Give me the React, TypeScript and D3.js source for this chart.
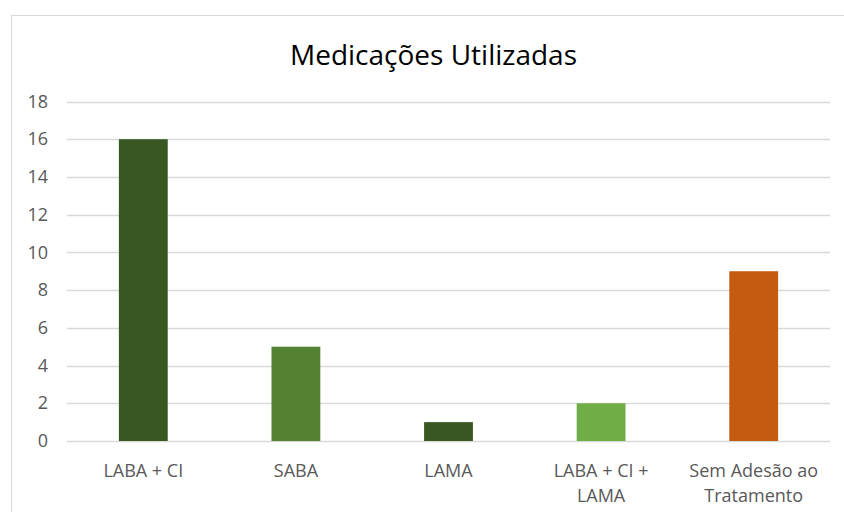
import { useEffect, useRef } from "react";
import * as d3 from "d3";

const categories = [["LABA + CI"], ["SABA"], ["LAMA"], ["LABA + CI +", "LAMA"], ["Sem Adesão ao", "Tratamento"]];
const values = [16, 5, 1, 2, 9];
const colors = ["#385723", "#548235", "#385723", "#70ad47", "#c55a11"];
const yTicks = [0, 2, 4, 6, 8, 10, 12, 14, 16, 18];
const title = "Medicações Utilizadas";

const W = 844;
const H = 512;
const FONT = "'Open Sans', sans-serif";

export default function App() {
  const svgRef = useRef<SVGSVGElement>(null);

  useEffect(() => {
    if (!svgRef.current) return;
    const svg = d3.select(svgRef.current);
    svg.selectAll("*").remove();

    // chart frame
    svg.append("rect")
      .attr("x", 11.5).attr("y", 15.5)
      .attr("width", W).attr("height", H)
      .attr("fill", "#fff")
      .attr("stroke", "#d9d9d9");

    const x = d3.scaleBand<number>()
      .domain(values.map((_, i) => i))
      .range([67, 830])
      .paddingInner(0.68)
      .paddingOuter(0.34);
    const y = d3.scaleLinear().domain([0, 18]).range([441, 101.5]);

    // grid
    svg.append("g")
      .selectAll("line")
      .data(yTicks)
      .join("line")
      .attr("x1", 67).attr("x2", 830)
      .attr("y1", (d) => Math.round(y(d)) + 0.5)
      .attr("y2", (d) => Math.round(y(d)) + 0.5)
      .attr("stroke", "#d9d9d9")
      .attr("stroke-width", 1.5);

    // y labels
    svg.append("g")
      .selectAll("text")
      .data(yTicks)
      .join("text")
      .attr("x", 48)
      .attr("y", (d) => y(d))
      .attr("dy", "0.34em")
      .attr("text-anchor", "end")
      .attr("font-family", FONT)
      .attr("font-size", 18)
      .attr("fill", "#595959")
      .text((d) => d);

    // bars
    svg.append("g")
      .selectAll("rect")
      .data(values)
      .join("rect")
      .attr("x", (_, i) => x(i)!)
      .attr("width", x.bandwidth())
      .attr("y", (d) => y(d))
      .attr("height", (d) => y(0) - y(d))
      .attr("fill", (_, i) => colors[i]);

    // category labels
    const cat = svg.append("g")
      .selectAll("text")
      .data(categories)
      .join("text")
      .attr("x", (_, i) => x(i)! + x.bandwidth() / 2)
      .attr("y", 477)
      .attr("text-anchor", "middle")
      .attr("font-family", FONT)
      .attr("font-size", 18)
      .attr("fill", "#595959");
    cat.each(function (lines) {
      const t = d3.select(this);
      lines.forEach((l, j) => {
        t.append("tspan")
          .attr("x", t.attr("x"))
          .attr("dy", j === 0 ? 0 : 25)
          .text(l);
      });
    });

    // title
    svg.append("text")
      .attr("x", 433.5)
      .attr("y", 65)
      .attr("text-anchor", "middle")
      .attr("font-family", FONT)
      .attr("font-size", 28)
      .attr("fill", "#000")
      .text(title);
  }, []);

  return (
    <div style={{ position: "fixed", left: 0, top: 0, width: W, height: H, background: "#fff" }}>
      <svg ref={svgRef} width={W} height={H} />
    </div>
  );
}
